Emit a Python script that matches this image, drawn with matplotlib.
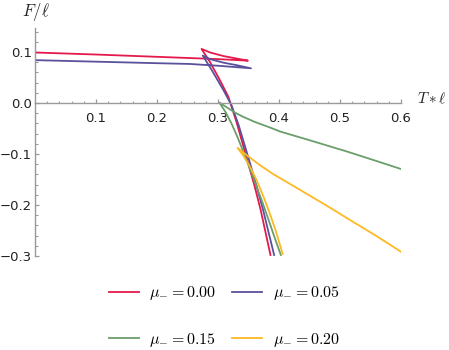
import matplotlib
matplotlib.use("Agg")
import matplotlib.pyplot as plt
from matplotlib.ticker import MultipleLocator, FixedLocator

plt.rcParams['mathtext.fontset'] = 'cm'
plt.rcParams['font.family'] = ['DejaVu Sans']

# ---- data ----
labels = [r'$\mu_{-} = 0.00$', r'$\mu_{-} = 0.05$', r'$\mu_{-} = 0.15$', r'$\mu_{-} = 0.20$']
colors = ['#E5194C', '#5A519B', '#6B9E6B', '#FDB924']

# mu = 0.00 : small-BH branch -> middle branch -> large-BH branch
red_T = [0.000, 0.100, 0.200, 0.300, 0.349,
         0.331, 0.309, 0.287, 0.273,
         0.287, 0.303, 0.317, 0.330, 0.348, 0.360, 0.370, 0.386]
red_F = [0.099, 0.095, 0.0905, 0.086, 0.083,
         0.087, 0.092, 0.099, 0.106,
         0.080, 0.045, 0.012, -0.036, -0.112, -0.163, -0.210, -0.298]

# mu = 0.05
blue_T = [0.000, 0.100, 0.200, 0.254, 0.300, 0.354,
          0.331, 0.309, 0.287, 0.275,
          0.290, 0.309, 0.322, 0.334, 0.351, 0.363, 0.374, 0.392]
blue_F = [0.084, 0.081, 0.078, 0.0765, 0.073, 0.068,
          0.074, 0.079, 0.086, 0.093,
          0.064, 0.025, -0.004, -0.044, -0.112, -0.162, -0.210, -0.298]

# mu = 0.15
green_T = [0.604, 0.550, 0.511, 0.450, 0.402, 0.385, 0.360, 0.341, 0.328, 0.315, 0.302,
           0.312, 0.322, 0.332, 0.342, 0.352, 0.362, 0.372, 0.382, 0.392, 0.403]
green_F = [-0.131, -0.110, -0.095, -0.073, -0.056, -0.048, -0.037, -0.027, -0.019, -0.009, 0.001,
           -0.017, -0.040, -0.067, -0.097, -0.128, -0.160, -0.192, -0.226, -0.261, -0.298]

# mu = 0.20
yellow_T = [0.603, 0.560, 0.516, 0.475, 0.434, 0.390, 0.370, 0.350, 0.332,
            0.342, 0.352, 0.362, 0.372, 0.382, 0.394, 0.406]
yellow_F = [-0.294, -0.261, -0.229, -0.199, -0.170, -0.139, -0.123, -0.105, -0.088,
            -0.104, -0.124, -0.148, -0.176, -0.207, -0.248, -0.296]

x_ticks = [0.1, 0.2, 0.3, 0.4, 0.5, 0.6]
y_ticks = [-0.3, -0.2, -0.1, 0.0, 0.1]

# ---- figure ----
fig = plt.figure(figsize=(4.49, 3.5), dpi=100)
ax = fig.add_axes([35/449, 94/350, 366/449, 228/350])
ax.set_xlim(0, 0.6)
ax.set_ylim(-0.3, 0.147)

series = [(red_T, red_F), (blue_T, blue_F), (green_T, green_F), (yellow_T, yellow_F)]
lines = []
for (T, F), c, lab in zip(series, colors, labels):
    ln, = ax.plot(T, F, color=c, lw=1.3, label=lab, solid_joinstyle='round')
    lines.append(ln)

axis_col = '#9A9A9A'
for s in ['top', 'right']:
    ax.spines[s].set_visible(False)
ax.spines['left'].set_position(('data', 0))
ax.spines['bottom'].set_position(('data', 0))
for s in ['left', 'bottom']:
    ax.spines[s].set_color(axis_col)
    ax.spines[s].set_linewidth(1.0)

ax.xaxis.set_major_locator(FixedLocator(x_ticks))
ax.yaxis.set_major_locator(FixedLocator(y_ticks))
ax.xaxis.set_minor_locator(MultipleLocator(0.02))
ax.yaxis.set_minor_locator(MultipleLocator(0.02))
ax.set_xticklabels(['%.1f' % v for v in x_ticks])
ax.set_yticklabels(['\u2212%.1f' % abs(v) if v < 0 else '%.1f' % v for v in y_ticks])
ax.tick_params(which='both', direction='in', color=axis_col, labelsize=9.5, labelcolor='#222222')
ax.tick_params(which='major', length=3.2, width=0.9)
ax.tick_params(which='minor', length=1.8, width=0.8)
ax.tick_params(axis='x', pad=6.5)
ax.tick_params(axis='y', pad=2)

fig.text(22/449, 1 - 12/350, r'$F/\ell$', ha='left', va='center', fontsize=12, color='#222222')
fig.text(447/449, 1 - 99/350, r'$T\ast\ell$', ha='right', va='center', fontsize=11, color='#222222')

order = [0, 2, 1, 3]
leg = fig.legend([lines[i] for i in order], [labels[i] for i in order], ncol=2,
                 loc='center', bbox_to_anchor=(224.5/449, 1 - 316.5/350),
                 frameon=False, fontsize=11.5, handlelength=1.87, handletextpad=0.65,
                 columnspacing=1.0, labelspacing=1.78)

fig.savefig('out.png', dpi=100)
